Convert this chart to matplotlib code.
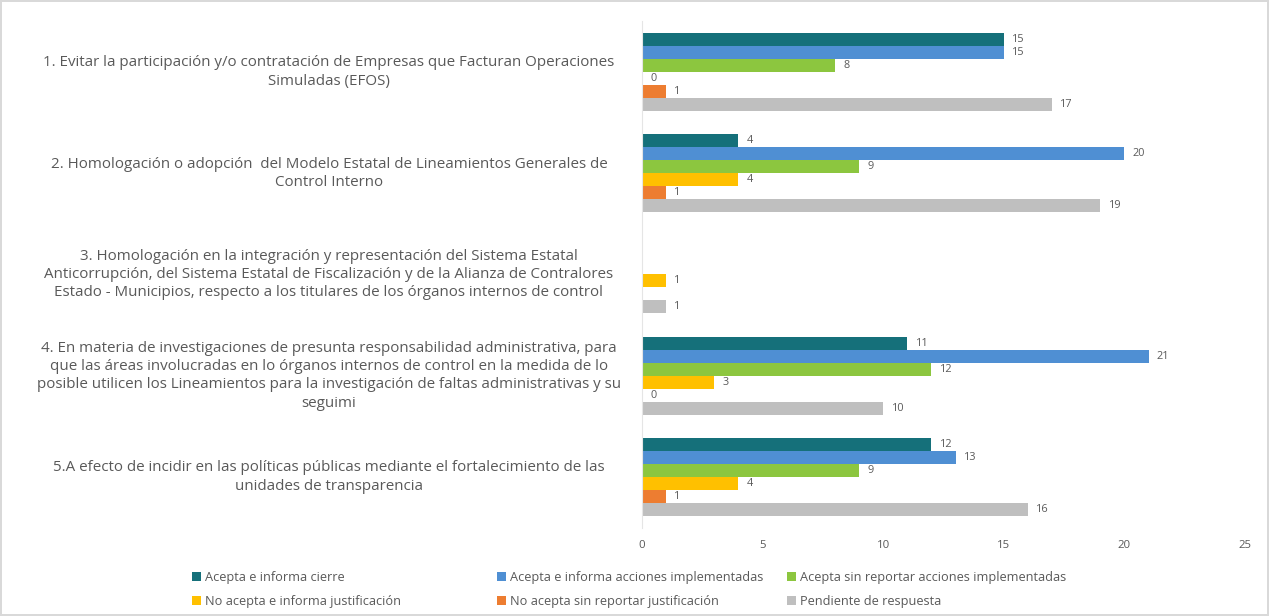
import numpy as np
import matplotlib
matplotlib.use("Agg")
import matplotlib.pyplot as plt

plt.rcParams['font.family'] = ['Open Sans', 'DejaVu Sans']

categories = [
    "1. Evitar la participación y/o contratación de Empresas que Facturan Operaciones\nSimuladas (EFOS)",
    "2. Homologación o adopción  del Modelo Estatal de Lineamientos Generales de\nControl Interno",
    "3. Homologación en la integración y representación del Sistema Estatal\nAnticorrupción, del Sistema Estatal de Fiscalización y de la Alianza de Contralores\nEstado - Municipios, respecto a los titulares de los órganos internos de control",
    "4. En materia de investigaciones de presunta responsabilidad administrativa, para\nque las áreas involucradas en lo órganos internos de control en la medida de lo\nposible utilicen los Lineamientos para la investigación de faltas administrativas y su\nseguimi",
    "5.A efecto de incidir en las políticas públicas mediante el fortalecimiento de las\nunidades de transparencia",
]

series_names = [
    "Acepta e informa cierre",
    "Acepta e informa acciones implementadas",
    "Acepta sin reportar acciones implementadas",
    "No acepta e informa justificación",
    "No acepta sin reportar justificación",
    "Pendiente de respuesta",
]

acepta_cierre = [15, 4, None, 11, 12]
acepta_acciones = [15, 20, None, 21, 13]
acepta_sin_reportar = [8, 9, None, 12, 9]
no_acepta_justifica = [0, 4, 1, 3, 4]
no_acepta_sin_reportar = [1, 1, None, 0, 1]
pendiente = [17, 19, 1, 10, 16]

series_values = [acepta_cierre, acepta_acciones, acepta_sin_reportar,
                 no_acepta_justifica, no_acepta_sin_reportar, pendiente]

colors = ["#15707A", "#4F8FD3", "#8CC63F", "#FFC000", "#ED7D31", "#BFBFBF"]

text_color = "#595959"

W, H = 1269, 616
fig = plt.figure(figsize=(W / 100, H / 100), dpi=100)
fig.patch.set_edgecolor("#D9D9D9")
fig.patch.set_linewidth(1.5)

left, right = 642 / W, 1245 / W
top, bottom = 21.5 / H, 527.5 / H
ax = fig.add_axes([left, 1 - bottom, right - left, bottom - top])

n = len(categories)
ns = len(series_values)
h = 0.128
y = np.arange(n)

handles = []
for j, (vals, c, name) in enumerate(zip(series_values, colors, series_names)):
    pos = y + (j - (ns - 1) / 2) * h
    arr = np.array([np.nan if v is None else v for v in vals], dtype=float)
    bars = ax.barh(pos, np.nan_to_num(arr), height=h, color=c, label=name)
    handles.append(bars)
    for p, v in zip(pos, vals):
        if v is None:
            continue
        ax.annotate(str(v), xy=(v, p), xytext=(6, 0), textcoords="offset points",
                    ha="left", va="center", fontsize=7.8, color=text_color)

ax.set_xlim(0, 25)
ax.set_ylim(n - 0.5, -0.5)
ax.set_xticks([0, 5, 10, 15, 20, 25])
ax.tick_params(axis="x", length=0, labelsize=8.2, labelcolor=text_color, pad=9)
ax.set_yticks([])
for s in ["top", "right", "bottom"]:
    ax.spines[s].set_visible(False)
ax.spines["left"].set_color("#E5E5E5")
ax.spines["left"].set_linewidth(0.8)

# category labels, centered block to the left of the axes
for i, lab in enumerate(categories):
    yy = ax.transData.transform((0, i))[1]
    yf = yy / H
    fig.text(329 / W, yf, lab, ha="center", va="center", multialignment="center",
             fontsize=10.9, color=text_color, linespacing=1.3)

# legend: three columns, two rows
col_x = [192, 497, 787]
for k in range(3):
    fig.legend([handles[k], handles[k + 3]], [series_names[k], series_names[k + 3]],
               loc="upper left", bbox_to_anchor=(col_x[k] / W, 1 - 571 / H),
               frameon=False, fontsize=9.2, labelcolor=text_color,
               handlelength=0.7, handleheight=0.7, handletextpad=0.3,
               labelspacing=0.85, borderpad=0, borderaxespad=0)

fig.savefig("out.png", dpi=100)
